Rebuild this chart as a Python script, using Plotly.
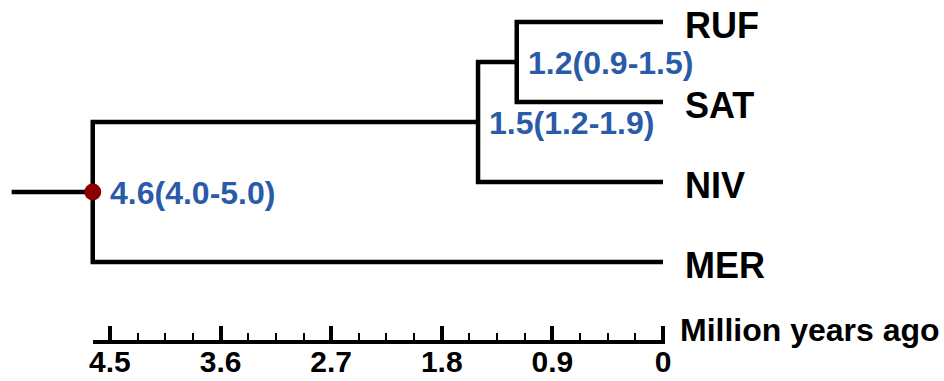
import plotly.graph_objects as go

# ---------------- data ----------------
taxa = ["RUF", "SAT", "NIV", "MER"]
# internal nodes: (child_a, child_b, age in Myr, label)
node_names = ["n12", "n15", "root"]
node_children = [("RUF", "SAT"), ("n12", "NIV"), ("n15", "MER")]
node_ages = [1.19, 1.505, 4.64]
node_labels = ["1.2(0.9-1.5)", "1.5(1.2-1.9)", "4.6(4.0-5.0)"]
root_stem_start = 5.30
tick_vals = [4.5, 3.6, 2.7, 1.8, 0.9, 0]
tick_text = ["4.5", "3.6", "2.7", "1.8", "0.9", "0"]
minor_step = 0.225
axis_title = "Million years ago"

# ---------------- layout constants ----------------
W, H = 944, 381
PX_PER_MYR = 122.9
X0_PX = 663          # pixel of age 0
Y0_PX = 22           # pixel of first taxon
ROW_PX = 80          # pixels per taxon row
AXIS_Y_PX = 342

BLACK = "#000000"
BLUE = "#2A5BA8"
RED = "#8B0000"
FONT = "Liberation Sans, Arial, sans-serif"
CLEAR = "rgba(0,0,0,0)"
LW = 4.5

x_left = X0_PX / PX_PER_MYR
x_right = (X0_PX - W) / PX_PER_MYR
y_top = -Y0_PX / ROW_PX
y_bot = (H - Y0_PX) / ROW_PX

# positions of tips and nodes
pos_y = {t: i for i, t in enumerate(taxa)}
pos_x = {t: 0.0 for t in taxa}
for name, (a, b), age in zip(node_names, node_children, node_ages):
    pos_x[name] = age
    pos_y[name] = (pos_y[a] + pos_y[b]) / 2

fig = go.Figure()

# branches
for name, (a, b) in zip(node_names, node_children):
    xs = [pos_x[a], pos_x[name], pos_x[name], pos_x[b]]
    ys = [pos_y[a], pos_y[a], pos_y[b], pos_y[b]]
    fig.add_trace(go.Scatter(x=xs, y=ys, mode="lines",
                             line=dict(color=BLACK, width=LW),
                             hoverinfo="skip", showlegend=False))

root = node_names[-1]
fig.add_trace(go.Scatter(x=[root_stem_start, pos_x[root]], y=[pos_y[root], pos_y[root]],
                         mode="lines", line=dict(color=BLACK, width=LW),
                         hoverinfo="skip", showlegend=False))
fig.add_trace(go.Scatter(x=[pos_x[root]], y=[pos_y[root]], mode="markers",
                         marker=dict(color=RED, size=17),
                         hoverinfo="skip", showlegend=False))

# invisible trace to hold the time axis
fig.add_trace(go.Scatter(x=[tick_vals[0], tick_vals[-1]], y=[y_bot, y_bot], xaxis="x2",
                         mode="lines", line=dict(width=0), opacity=0,
                         hoverinfo="skip", showlegend=False))

# tip labels
for t in taxa:
    fig.add_annotation(x=pos_x[t], y=pos_y[t], text=t, showarrow=False,
                       xanchor="left", yanchor="middle", xshift=20, yshift=-3,
                       font=dict(family=FONT, size=36, color=BLACK, weight="bold"))

# node labels
shifts = [9, 9, 15]
for name, lab, xs in zip(node_names, node_labels, shifts):
    fig.add_annotation(x=pos_x[name], y=pos_y[name], text=lab, showarrow=False,
                       xanchor="left", yanchor="middle", xshift=xs, yshift=-1,
                       font=dict(family=FONT, size=32, color=BLUE, weight="bold"))

# axis title
fig.add_annotation(x=0, y=(AXIS_Y_PX - 12 - Y0_PX) / ROW_PX, text=axis_title,
                   showarrow=False, xanchor="left", yanchor="middle", xshift=15,
                   font=dict(family=FONT, size=32, color=BLACK, weight="bold"))

d_left = 93 / W
d_right = 665 / W
fig.update_layout(
    width=W, height=H,
    margin=dict(l=0, r=0, t=0, b=0, autoexpand=False),
    paper_bgcolor="white", plot_bgcolor=CLEAR,
    xaxis=dict(range=[x_left, x_right], visible=False, domain=[0, 1], automargin=False),
    yaxis=dict(range=[y_bot, y_top], visible=False, domain=[0, 1], automargin=False),
    xaxis2=dict(
        range=[(X0_PX - 93) / PX_PER_MYR, (X0_PX - 665) / PX_PER_MYR],
        domain=[d_left, d_right], automargin=False,
        anchor="free", position=1 - AXIS_Y_PX / H, side="bottom",
        showline=True, linewidth=4, linecolor=BLACK,
        showgrid=False, zeroline=False,
        tickmode="array", tickvals=tick_vals, ticktext=tick_text,
        ticks="inside", ticklen=14, tickwidth=4, tickcolor=BLACK,
        minor=dict(ticks="inside", ticklen=7, tickwidth=2, tickcolor=BLACK,
                   dtick=minor_step, tick0=0, showgrid=False),
        tickfont=dict(family=FONT, size=30, color=BLACK, weight="bold"),
        ticklabelstandoff=-8,
    ),
    showlegend=False,
)

fig.write_html("out.html")
